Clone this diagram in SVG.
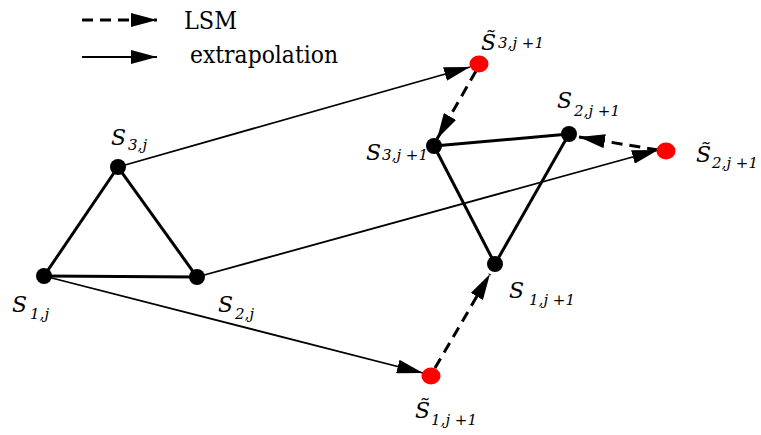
<svg xmlns="http://www.w3.org/2000/svg" width="761" height="435" viewBox="0 0 761 435">
<style>
text{font-family:"DejaVu Serif",serif}
.lbl{font-style:italic;fill:#000}
.S{font-size:22px}
.sub{font-size:15px}
.leg{font-size:24px;fill:#000}
.ext{stroke:#000;stroke-width:1.8;fill:none}
.lsm{stroke:#000;stroke-width:3;fill:none;stroke-dasharray:11 7}
.edge{stroke:#000;stroke-width:3;fill:none}
.blk{fill:#000}
.red{fill:#ff0000}
</style>
<defs>
<marker id="ah" markerUnits="userSpaceOnUse" markerWidth="28" markerHeight="14" refX="26" refY="7" orient="auto">
<path d="M0,0 L26,7 L0,14 z" fill="#000"/>
</marker>
</defs>
<g id="legend">
<line x1="82" y1="20" x2="157" y2="20" class="lsm" stroke-dasharray="10 6" marker-end="url(#ah)"/>
<text x="184" y="29" class="leg" textLength="53" lengthAdjust="spacingAndGlyphs">LSM</text>
<line x1="82" y1="57" x2="157" y2="57" class="ext" stroke-width="2.2" marker-end="url(#ah)"/>
<text x="190" y="63" class="leg" textLength="148" lengthAdjust="spacingAndGlyphs">extrapolation</text>
</g>
<g id="connectors">
<line x1="44" y1="276" x2="197" y2="277" class="edge"/>
<line x1="44" y1="276" x2="118" y2="167" class="edge"/>
<line x1="118" y1="167" x2="197" y2="277" class="edge"/>
<line x1="434" y1="146" x2="569" y2="134" class="edge"/>
<line x1="434" y1="146" x2="495" y2="264" class="edge"/>
<line x1="569" y1="134" x2="495" y2="264" class="edge"/>
<line x1="118" y1="167" x2="470" y2="67" class="ext" marker-end="url(#ah)"/>
<line x1="197" y1="277" x2="658" y2="150" class="ext" marker-end="url(#ah)"/>
<line x1="44" y1="276" x2="423" y2="373" class="ext" marker-end="url(#ah)"/>
<line x1="476" y1="71" x2="437" y2="139" class="lsm" marker-end="url(#ah)"/>
<line x1="658" y1="150" x2="579" y2="137" class="lsm" marker-end="url(#ah)"/>
<line x1="435" y1="368" x2="490" y2="274" class="lsm" marker-end="url(#ah)"/>
</g>
<g id="s1j"><circle cx="44" cy="276" r="8" class="blk"/>
<text x="12" y="312" class="lbl"><tspan class="S">S</tspan><tspan class="sub" dx="3" dy="7">1,j</tspan></text></g>
<g id="s2j"><circle cx="197" cy="277" r="8" class="blk"/>
<text x="218" y="312" class="lbl"><tspan class="S">S</tspan><tspan class="sub" dx="2" dy="7">2,j</tspan></text></g>
<g id="s3j"><circle cx="118" cy="167" r="8" class="blk"/>
<text x="111" y="145" class="lbl"><tspan class="S">S</tspan><tspan class="sub" dx="2" dy="5">3,j</tspan></text></g>
<g id="s3j1"><circle cx="434" cy="146" r="8" class="blk"/>
<text x="366" y="160" class="lbl"><tspan class="S">S</tspan><tspan class="sub" dx="1" dy="0">3,j +1</tspan></text></g>
<g id="s2j1"><circle cx="569" cy="134" r="8" class="blk"/>
<text x="557" y="108" class="lbl"><tspan class="S">S</tspan><tspan class="sub" dx="2" dy="8">2,j +1</tspan></text></g>
<g id="s1j1"><circle cx="495" cy="264" r="8" class="blk"/>
<text x="509" y="298" class="lbl"><tspan class="S">S</tspan><tspan class="sub" dx="5" dy="7">1,j +1</tspan></text></g>
<g id="ts3"><ellipse cx="479" cy="64" rx="9.5" ry="8.5" class="red"/>
<text x="481" y="50" class="lbl"><tspan class="S">S&#x0303;</tspan><tspan class="sub" dx="2" dy="-2">3,j +1</tspan></text></g>
<g id="ts2"><ellipse cx="666" cy="151" rx="9.5" ry="8.5" class="red"/>
<text x="696" y="162" class="lbl"><tspan class="S">S&#x0303;</tspan><tspan class="sub" dx="1" dy="6">2,j +1</tspan></text></g>
<g id="ts1"><ellipse cx="431" cy="376" rx="9.5" ry="8.5" class="red"/>
<text x="415" y="418" class="lbl"><tspan class="S">S&#x0303;</tspan><tspan class="sub" dx="1" dy="7">1,j +1</tspan></text></g>
</svg>
